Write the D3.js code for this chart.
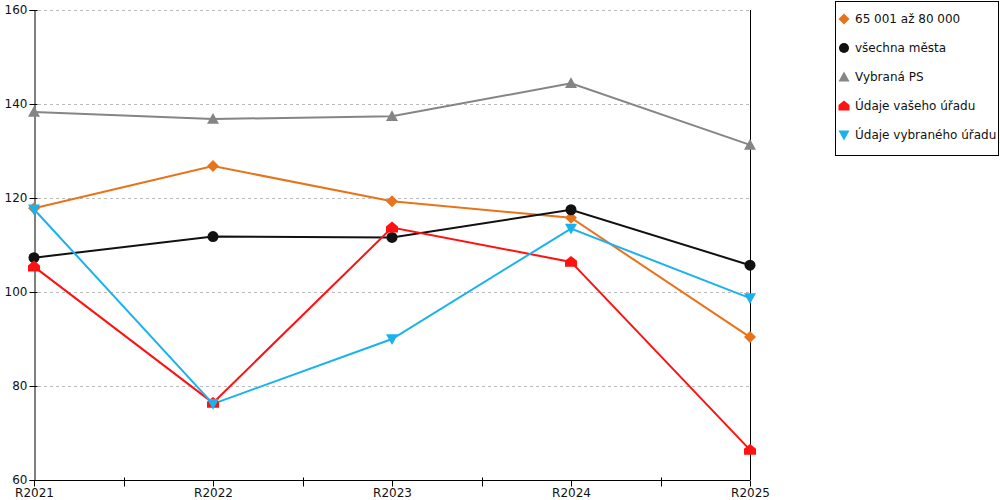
<!DOCTYPE html>
<html>
<head>
<meta charset="utf-8">
<script src="https://cdn.jsdelivr.net/npm/d3@7"></script>
<style>
  body { margin: 0; background: #fff; }
  text { font-family: "DejaVu Sans", Verdana, sans-serif; font-size: 12px; fill: #111; }
</style>
</head>
<body>
<script>
// Data
const years = ["R2021", "R2022", "R2023", "R2024", "R2025"];
const seriesNames = ["65 001 až 80 000", "všechna města", "Vybraná PS", "Údaje vašeho úřadu", "Údaje vybraného úřadu"];
const orangeValues = [117.8, 126.8, 119.3, 115.8, 90.4];
const blackValues = [107.3, 111.8, 111.6, 117.5, 105.7];
const grayValues = [138.3, 136.8, 137.4, 144.4, 131.3];
const redValues = [105.4, 76.4, 113.7, 106.4, 66.4];
const cyanValues = [117.6, 76.2, 90.0, 113.5, 98.7];
const yTicks = [60, 80, 100, 120, 140, 160];

const series = [
  {name: seriesNames[0], values: orangeValues, color: "#E8731A", marker: "diamond"},
  {name: seriesNames[1], values: blackValues, color: "#111111", marker: "circle"},
  {name: seriesNames[2], values: grayValues, color: "#858585", marker: "up"},
  {name: seriesNames[3], values: redValues, color: "#FF1111", marker: "house"},
  {name: seriesNames[4], values: cyanValues, color: "#1AB2EE", marker: "down"}
];

const width = 1000, height = 500;
const margin = {top: 10, right: 250, bottom: 20, left: 34};

const svg = d3.select("body").append("svg")
    .attr("width", width)
    .attr("height", height);

const x = d3.scalePoint()
    .domain(years)
    .range([margin.left, width - margin.right]);

const y = d3.scaleLinear()
    .domain([60, 160])
    .range([height - margin.bottom, margin.top]);

// grid
svg.append("g")
  .selectAll("line")
  .data(yTicks.slice(1))
  .enter().append("line")
    .attr("x1", margin.left + 4)
    .attr("x2", width - margin.right)
    .attr("y1", d => y(d) + 0.5)
    .attr("y2", d => y(d) + 0.5)
    .attr("stroke", "#bbb")
    .attr("stroke-dasharray", "3,3");

// right border line
svg.append("line")
    .attr("x1", width - margin.right + 0.5)
    .attr("x2", width - margin.right + 0.5)
    .attr("y1", margin.top)
    .attr("y2", height - margin.bottom)
    .attr("stroke", "#000");

// y axis
const yAxis = svg.append("g")
    .attr("transform", `translate(${margin.left + 0.5},0)`)
    .call(d3.axisLeft(y).tickValues(yTicks).tickSize(5).tickPadding(2));
yAxis.select(".domain").attr("stroke", "#000");
yAxis.selectAll(".tick line").attr("x2", 3).attr("x1", -5);
yAxis.selectAll("text").style("font-size", "12px").attr("fill", "#111")
    .attr("font-family", "DejaVu Sans");

// x axis
const xAxis = svg.append("g")
    .attr("transform", `translate(0,${height - margin.bottom + 0.5})`)
    .call(d3.axisBottom(x).tickSize(6).tickPadding(2));
xAxis.select(".domain").attr("stroke", "#000").attr("d", `M${margin.left},0H${width - margin.right}`);
xAxis.selectAll("text").style("font-size", "12px").attr("fill", "#111")
    .attr("font-family", "DejaVu Sans");

// minor ticks between categories
const mids = years.slice(1).map((d, i) => (x(years[i]) + x(d)) / 2);
xAxis.selectAll(".mid")
  .data(mids)
  .enter().append("line")
    .attr("class", "mid")
    .attr("x1", d => Math.round(d) + 0.5)
    .attr("x2", d => Math.round(d) + 0.5)
    .attr("y1", -3)
    .attr("y2", 6)
    .attr("stroke", "#000");

function markerPath(type, s) {
  if (type === "diamond") return `M0,${-s}L${s},0L0,${s}L${-s},0Z`;
  if (type === "up") return `M0,${-s}L${s},${s * 0.8}L${-s},${s * 0.8}Z`;
  if (type === "down") return `M0,${s}L${s},${-s * 0.8}L${-s},${-s * 0.8}Z`;
  if (type === "house") return `M0,${-s}L${s},${-s * 0.2}L${s},${s * 0.8}L${-s},${s * 0.8}L${-s},${-s * 0.2}Z`;
  return null;
}

function drawMarker(g, type, color, size) {
  if (type === "circle") {
    g.append("circle").attr("r", size).attr("fill", color);
  } else {
    g.append("path").attr("d", markerPath(type, size)).attr("fill", color);
  }
}

const line = d3.line()
    .x((d, i) => x(years[i]))
    .y(d => y(d));

series.forEach(s => {
  svg.append("path")
      .datum(s.values)
      .attr("d", line)
      .attr("fill", "none")
      .attr("stroke", s.color)
      .attr("stroke-width", 2);
});

series.forEach(s => {
  s.values.forEach((v, i) => {
    const g = svg.append("g").attr("transform", `translate(${x(years[i])},${y(v)})`);
    drawMarker(g, s.marker, s.color, s.marker === "circle" ? 5.5 : 6);
  });
});

// legend
const legend = svg.append("g");
legend.append("rect")
    .attr("x", 835.5).attr("y", 1.5)
    .attr("width", 163).attr("height", 154)
    .attr("fill", "#fff").attr("stroke", "#000");

series.forEach((s, i) => {
  const ly = 19 + i * 29;
  const g = legend.append("g").attr("transform", `translate(844,${ly})`);
  drawMarker(g, s.marker, s.color, s.marker === "circle" ? 5 : 5.5);
  legend.append("text")
      .attr("x", 855)
      .attr("y", ly)
      .attr("dy", "0.35em")
      .text(s.name);
});
</script>
</body>
</html>
